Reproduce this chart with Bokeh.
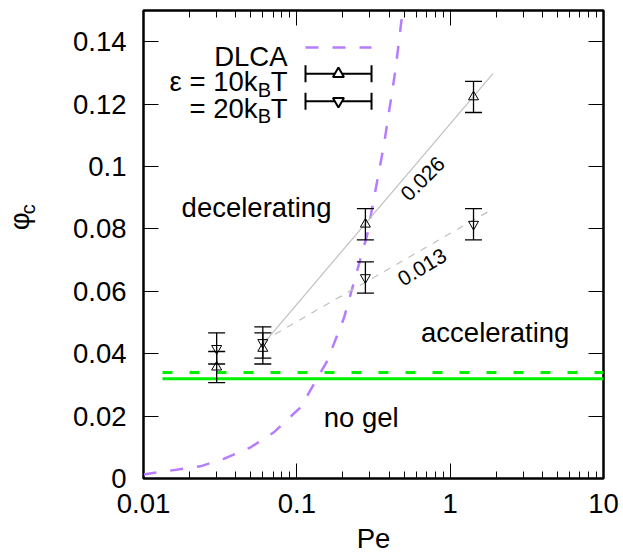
import math
from bokeh.plotting import figure
from bokeh.layouts import row
from bokeh.models import (FixedTicker, CustomJSTickFormatter, LogAxis, LinearAxis, Range1d)
from bokeh.core.properties import value
from bokeh.embed import file_html
from bokeh.resources import INLINE

# ---------------- data ----------------
pe_points = [0.03, 0.06, 0.28, 1.42]
phi_10 = [0.0357, 0.0417, 0.0815, 0.1223]
err_10 = [0.005, 0.005, 0.005, 0.005]
phi_20 = [0.0417, 0.0436, 0.0644, 0.0815]
err_20 = [0.005, 0.005, 0.005, 0.005]

fit10_pe = [0.06, 1.9]
fit10_phi = [0.043, 0.1298]
fit20_pe = [0.06, 1.9]
fit20_phi = [0.044, 0.0864]
slope_labels = ["0.026", "0.013"]

dlca_pe = [0.01, 0.0235, 0.0334, 0.05, 0.0708, 0.1057, 0.158, 0.203, 0.288, 0.37, 0.44, 0.49, 0.55]
dlca_phi = [0.0013, 0.0039, 0.0063, 0.0100, 0.0148, 0.0228, 0.0377, 0.0515, 0.0782, 0.107, 0.131, 0.150, 0.173]

gel_pe = [0.0133, 10]
gel_phi_solid = [0.032, 0.032]
gel_phi_dashed = [0.034, 0.034]

x_ticks = [0.01, 0.1, 1, 10]
x_labels = ["0.01", "0.1", "1", "10"]
x_minor = [m * d for d in [0.01, 0.1, 1] for m in range(2, 10)]
y_ticks = [0, 0.02, 0.04, 0.06, 0.08, 0.1, 0.12, 0.14]
y_labels = ["0", "0.02", "0.04", "0.06", "0.08", "0.1", "0.12", "0.14"]

FONT = "Liberation Sans"
BIG = "27.5px"
SMALL = "20px"
PURPLE = "#b57cff"
GREEN = "#00f000"
GRAY = "#c0c0c0"

LEFT_W = 40          # width of the strip holding the y-axis title
PAGE_H = 558

p = figure(width=581, height=PAGE_H, x_axis_type="log",
           x_range=Range1d(0.01, 10), y_range=Range1d(0, 0.15),
           output_backend="svg", toolbar_location=None,
           min_border_left=103, min_border_right=18,
           min_border_top=10, min_border_bottom=80)
p.xgrid.visible = False
p.ygrid.visible = False
p.outline_line_color = "black"
p.outline_line_width = 2.5
p.outline_line_alpha = 1.0
p.background_fill_color = "white"
p.border_fill_color = "white"

FMT_CODE = """
for (let i = 0; i < tv.length; i++) {
  if (Math.abs(tick - tv[i]) <= 1e-9 * Math.max(1e-3, Math.abs(tv[i]))) return tl[i];
}
return "";
"""


def style(ax, ticks, labels, minor, show, standoff):
    ax.ticker = FixedTicker(ticks=ticks, minor_ticks=minor)
    ax.formatter = CustomJSTickFormatter(
        args=dict(tv=ticks, tl=labels if show else [""] * len(labels)),
        code=FMT_CODE)
    ax.axis_line_color = None
    ax.major_tick_in = 15
    ax.major_tick_out = 0
    ax.minor_tick_in = 7
    ax.minor_tick_out = 0
    ax.major_tick_line_color = "black"
    ax.major_tick_line_width = 1
    ax.minor_tick_line_color = "black" if minor else None
    ax.minor_tick_line_width = 1
    ax.major_label_text_font = FONT
    ax.major_label_text_font_size = BIG if show else "0px"
    ax.major_label_text_color = "black"
    ax.major_label_standoff = standoff
    ax.axis_label = None


style(p.xaxis[0], x_ticks, x_labels, x_minor, True, 15)
p.xaxis[0].axis_label = "Pe"
p.xaxis[0].axis_label_text_font = FONT
p.xaxis[0].axis_label_text_font_size = BIG
p.xaxis[0].axis_label_text_font_style = "normal"
p.xaxis[0].axis_label_text_color = "black"
p.xaxis[0].axis_label_standoff = 7
style(p.yaxis[0], y_ticks, y_labels, [], True, 17)
top_ax = LogAxis()
style(top_ax, x_ticks, x_labels, x_minor, False, 0)
p.add_layout(top_ax, "above")
right_ax = LinearAxis()
style(right_ax, y_ticks, y_labels, [], False, 0)
p.add_layout(right_ax, "right")

# gel lines
p.line(gel_pe, gel_phi_solid, line_color=GREEN, line_width=3)
p.line(gel_pe, gel_phi_dashed, line_color=GREEN, line_width=3, line_dash="10 17")

# DLCA
p.line(dlca_pe, dlca_phi, line_color=PURPLE, line_width=2.5, line_dash="13 14")

# fits
p.line(fit10_pe, fit10_phi, line_color=GRAY, line_width=1.2)
p.line(fit20_pe, fit20_phi, line_color=GRAY, line_width=1.2, line_dash="7 7")


def errbars(phis, errs, marker):
    lo = [v - e for v, e in zip(phis, errs)]
    hi = [v + e for v, e in zip(phis, errs)]
    p.segment(x0=pe_points, y0=lo, x1=pe_points, y1=hi, line_color="black", line_width=1.3)
    p.scatter(pe_points, lo, marker="dash", size=17, line_color="black", line_width=1.3)
    p.scatter(pe_points, hi, marker="dash", size=17, line_color="black", line_width=1.3)
    p.scatter(pe_points, phis, marker=marker, size=10, line_color="black",
              fill_color=None, line_width=1)


errbars(phi_10, err_10, "triangle")
errbars(phi_20, err_20, "inverted_triangle")

# region labels
p.text(x=[0.0546, 1.967, 0.263], y=[0.08686, 0.04689, 0.01965],
       text=["decelerating", "accelerating", "no gel"],
       text_font=value(FONT), text_font_size=BIG, text_color="black",
       text_align="center", text_baseline="alphabetic")
p.text(x=[0.663], y=[0.09606], text=[slope_labels[0]], angle=math.radians(45),
       text_font=value(FONT), text_font_size="21px", text_color="black",
       text_align="center", text_baseline="middle")
p.text(x=[0.6575], y=[0.06772], text=[slope_labels[1]], angle=math.radians(31),
       text_font=value(FONT), text_font_size="21px", text_color="black",
       text_align="center", text_baseline="middle")

# legend (placed in data coords)
LX_TEXT = 0.0869
LX0, LX1, LXM = 0.1139, 0.307, 0.1868
rows = [0.13814, 0.12971, 0.12093]
bases = [0.13526, 0.12724, 0.11869]
p.line([LX0, LX1], [rows[0], rows[0]], line_color=PURPLE, line_width=2.5, line_dash="13 14")
for r, mk in [(rows[1], "triangle"), (rows[2], "inverted_triangle")]:
    p.line([LX0, LX1], [r, r], line_color="black", line_width=2)
    p.scatter([LX0, LX1], [r, r], marker="dash", angle=math.pi / 2, size=17,
              line_color="black", line_width=2)
    p.scatter([LXM], [r], marker=mk, size=11, line_color="black",
              fill_color="white", line_width=2)

p.text(x=[LX_TEXT], y=[bases[0]], text=["DLCA"], text_font=value(FONT),
       text_font_size=BIG, text_align="right", text_baseline="alphabetic")
for b, main in [(bases[1], "ε = 10k"), (bases[2], "= 20k")]:
    p.text(x=[LX_TEXT], y=[b], text=["T"], text_font=value(FONT),
           text_font_size=BIG, text_align="right", text_baseline="alphabetic")
    p.text(x=[LX_TEXT], y=[b], text=["B"], x_offset=-16.5, y_offset=8,
           text_font=value(FONT), text_font_size=SMALL, text_align="right",
           text_baseline="alphabetic")
    p.text(x=[LX_TEXT], y=[b], text=[main], x_offset=-30,
           text_font=value(FONT), text_font_size=BIG, text_align="right",
           text_baseline="alphabetic")

# y-axis title strip (page pixel coordinates)
left = figure(width=LEFT_W, height=PAGE_H, x_range=Range1d(0, LEFT_W),
              y_range=Range1d(PAGE_H, 0), output_backend="svg", toolbar_location=None,
              x_axis_location=None, y_axis_location=None,
              min_border_left=0, min_border_right=0, min_border_top=0, min_border_bottom=0)
left.xgrid.visible = False
left.ygrid.visible = False
left.outline_line_color = None
left.text(x=[18.5], y=[251.5], text=["φ"], angle=math.pi / 2,
          text_font=value(FONT), text_font_size=BIG, text_color="black",
          text_align="center", text_baseline="middle")
left.text(x=[27], y=[237], text=["c"], angle=math.pi / 2,
          text_font=value(FONT), text_font_size=SMALL, text_color="black",
          text_align="center", text_baseline="middle")

layout = row(left, p, spacing=0)
open("out.html", "w").write(file_html(layout, INLINE))
